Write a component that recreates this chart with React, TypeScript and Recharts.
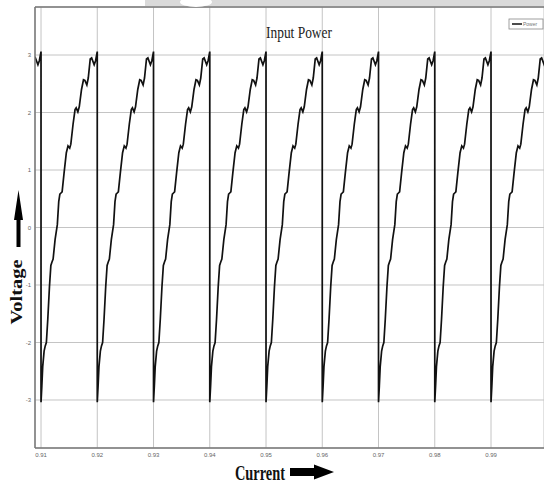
import React from "react";
import { LineChart, Line, XAxis, YAxis, CartesianGrid, ReferenceLine } from "recharts";

// Start of each sawtooth cycle (the vertical drop positions)
const CYCLE_STARTS = [0.9, 0.91, 0.92, 0.93, 0.94, 0.95, 0.96, 0.97, 0.98, 0.99];
const PERIOD = 0.01;
// One cycle of the waveform: [fraction of period, value]
const CYCLE_PROFILE: [number, number][] = [
  [0, -3.04], [0.015, -2.75], [0.03, -2.42], [0.055, -2.15], [0.075, -2.06], [0.095, -2.0],
  [0.12, -1.6], [0.15, -1.03], [0.175, -0.66], [0.195, -0.6], [0.215, -0.55], [0.25, -0.21],
  [0.29, 0.05], [0.315, 0.45], [0.335, 0.58], [0.355, 0.6], [0.375, 0.62], [0.41, 0.95],
  [0.45, 1.3], [0.48, 1.42], [0.51, 1.38], [0.53, 1.45], [0.57, 1.8], [0.605, 2.05],
  [0.625, 2.08], [0.655, 2.01], [0.68, 2.1], [0.72, 2.4], [0.755, 2.57], [0.78, 2.56],
  [0.815, 2.48], [0.84, 2.6], [0.875, 2.93], [0.9, 2.95], [0.945, 2.83], [0.97, 2.9],
  [1.0, 3.06],
];
const X_TICKS = [0.91, 0.92, 0.93, 0.94, 0.95, 0.96, 0.97, 0.98, 0.99];
const Y_TICKS = [-3, -2, -1, 0, 1, 2, 3];
const X_DOMAIN: [number, number] = [0.90893, 0.99942];
const Y_DOMAIN: [number, number] = [-3.835, 3.835];

const data: { x: number; power: number }[] = [];
CYCLE_STARTS.forEach((s) => {
  CYCLE_PROFILE.forEach(([f, v]) => {
    data.push({ x: +(s + f * PERIOD).toFixed(6), power: v });
  });
});

export default function App() {
  return (
    <div style={{ position: "absolute", left: 0, top: 0, width: 544, height: 484, background: "#fff" }}>
      <LineChart width={544} height={484} data={data} margin={{ top: 7, right: 0, bottom: 0, left: 0 }}>
        <CartesianGrid stroke="#c4c4c4" strokeWidth={1} />
        <XAxis
          dataKey="x"
          type="number"
          domain={X_DOMAIN}
          ticks={X_TICKS}
          allowDataOverflow
          height={36}
          tickLine={false}
          tickSize={3}
          axisLine={{ stroke: "#777", strokeWidth: 1.5 }}
          tick={{ fontSize: 6, fill: "#666", fontFamily: "Liberation Sans" }}
          tickFormatter={(v: number) => v.toFixed(2)}
        />
        <YAxis
          type="number"
          domain={Y_DOMAIN}
          ticks={Y_TICKS}
          allowDataOverflow
          width={35}
          tickLine={false}
          tickSize={2}
          axisLine={{ stroke: "#777", strokeWidth: 1.5 }}
          tick={{ fontSize: 6, fill: "#666", fontFamily: "Liberation Sans" }}
        />
        <ReferenceLine y={Y_DOMAIN[1]} stroke="#777" strokeWidth={1.5} />
        <Line
          dataKey="power"
          type="linear"
          stroke="#111"
          strokeWidth={1.7}
          dot={false}
          isAnimationActive={false}
        />
      </LineChart>
      <svg
        width={544}
        height={484}
        style={{ position: "absolute", left: 0, top: 0, pointerEvents: "none" }}
      >
        <rect x={145} y={0} width={399} height={6} fill="#dadada" />
        <ellipse cx={196} cy={2} rx={16} ry={5} fill="#fff" />
        <text
          x={299}
          y={38}
          textAnchor="middle"
          fontFamily="Liberation Serif"
          fontSize={17}
          fill="#222"
          textLength={66}
          lengthAdjust="spacingAndGlyphs"
        >
          Input Power
        </text>
        <rect x={509} y={19} width={34} height={10} fill="#fff" stroke="#888" strokeWidth={0.8} />
        <line x1={512} y1={24} x2={522} y2={24} stroke="#111" strokeWidth={1.5} />
        <text x={523} y={26} fontSize={5} fill="#777" fontFamily="Liberation Sans">Power</text>
        <text
          transform="translate(22,292) rotate(-90)"
          textAnchor="middle"
          fontFamily="Liberation Serif"
          fontWeight="bold"
          fontSize={16}
          fill="#111"
          textLength={65}
          lengthAdjust="spacingAndGlyphs"
        >
          Voltage
        </text>
        <polygon
          points="18.5,190 23,220 20.5,220 20.5,247 16.5,247 16.5,220 14,220"
          fill="#000"
        />
        <text
          x={260}
          y={480}
          textAnchor="middle"
          fontFamily="Liberation Serif"
          fontWeight="bold"
          fontSize={20}
          fill="#111"
          textLength={50}
          lengthAdjust="spacingAndGlyphs"
        >
          Current
        </text>
        <polygon points="290,468 314,468 314,464.5 334,472 314,479.5 314,476 290,476" fill="#000" />
      </svg>
    </div>
  );
}
